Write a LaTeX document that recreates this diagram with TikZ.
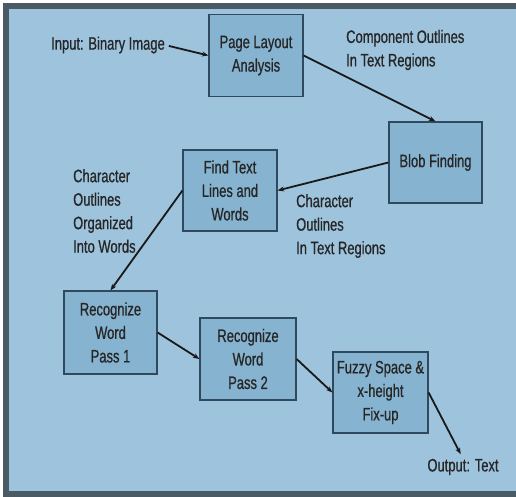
\documentclass[tikz,border=0pt]{standalone}
\usepackage{fontspec}
\setmainfont{Liberation Sans}[FakeStretch=0.72, FakeBold=0.7]
\usetikzlibrary{arrows.meta, positioning}

\definecolor{panelblue}{HTML}{9DC3DD}
\definecolor{boxblue}{HTML}{86B3D0}
\definecolor{boxline}{HTML}{2F4A5E}
\definecolor{framegray}{HTML}{4B5B66}

\begin{document}
\begin{tikzpicture}[x=1pt, y=-1pt, font=\fontsize{18}{23.5}\selectfont]
  % Styles for the stages and the free labels
  \tikzset{
    stage/.style={draw=boxline, line width=1.2pt, fill=boxblue, align=center,
      minimum width=94pt, minimum height=82pt, inner sep=2pt, text=black!85},
    note/.style={align=left, inner sep=0pt, text=black!85},
    flow/.style={-{Stealth[length=6.5pt, width=5pt]}, line width=1.8pt, black!90}
  }

  \clip (0,0) rectangle (516,497);
  % panel with its dark frame
  \draw[framegray, line width=6pt, fill=panelblue] (6,6) rectangle (525,494);

  % processing stages
  \node[stage] (layout) at (256,55.5) {Page Layout\\Analysis};
  \node[stage, minimum width=93pt, minimum height=81pt] (blob) at (435.5,162.5) {Blob Finding};
  \node[stage, minimum height=81pt] (lines) at (230,190.5) {Find Text\\Lines and\\Words};
  \node[stage, minimum width=93pt, minimum height=83pt] (pass1) at (110.5,332.5) {Recognize\\Word\\Pass 1};
  \node[stage, minimum width=96pt] (pass2) at (248,359) {Recognize\\Word\\Pass 2};
  \node[stage, minimum width=95pt, minimum height=81pt] (fuzzy) at (380.5,392.5) {Fuzzy Space \&\\x-height\\Fix-up};

  % input, output and the data between stages
  \node[note] (input) at (108,45) {Input: Binary Image};
  \node[note] (output) at (463,467) {Output: Text};
  \node[note, anchor=west] (comp) at (346,50) {Component Outlines\\In Text Regions};
  \node[note, anchor=west] (chars) at (296,226) {Character\\Outlines\\In Text Regions};
  \node[note, anchor=west] (words) at (73,211) {Character\\Outlines\\Organized\\Into Words};

  \draw[flow, shorten <=4pt] (input.east) -- (layout.west);
  \foreach \src/\dst in {
    layout.east/blob.north,
    blob.west/lines.east,
    lines.west/pass1.north,
    pass1.east/pass2.west,
    pass2.east/fuzzy.west}{
    \draw[flow] (\src) -- (\dst);
  }
  \draw[flow, shorten >=5pt] (fuzzy.east) -- (output.north);
\end{tikzpicture}
\end{document}
